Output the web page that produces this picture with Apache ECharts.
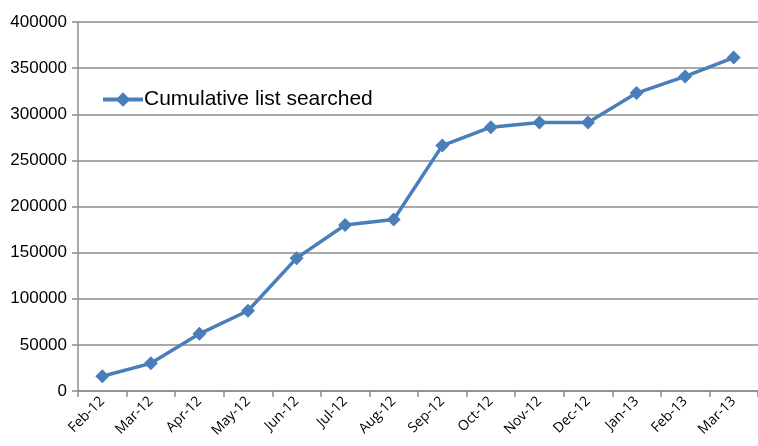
<!DOCTYPE html>
<html lang="en">
<head>
    <meta charset="UTF-8">
    <title>Cumulative list searched</title>
    <script src="https://cdn.jsdelivr.net/npm/echarts@6/dist/echarts.min.js"></script>
    <style>
        body { margin: 0; padding: 0; background: #fff; }
        #chart { width: 758px; height: 446px; }
    </style>
</head>
<body>
<div id="chart"></div>
<script>
// data
const months = ['Feb-12', 'Mar-12', 'Apr-12', 'May-12', 'Jun-12', 'Jul-12', 'Aug-12',
    'Sep-12', 'Oct-12', 'Nov-12', 'Dec-12', 'Jan-13', 'Feb-13', 'Mar-13'];
const searched = [16000, 30000, 62000, 87000, 144000, 180000, 186000,
    266000, 286000, 291000, 291000, 323000, 341000, 361500];
const seriesName = 'Cumulative list searched';

const chart = echarts.init(document.getElementById('chart'));
const gray = '#8c8c8c';

chart.setOption({
    animation: false,
    grid: { left: 78, right: -7, top: 22, bottom: 55 },
    legend: {
        left: 96,
        top: 84,
        itemWidth: 40,
        itemHeight: 18,
        itemGap: 0,
        lineStyle: { width: 4 },
        textStyle: { fontFamily: 'Liberation Sans', fontSize: 21, color: '#000', padding: [0, 0, 0, -4] },
        data: [seriesName]
    },
    xAxis: {
        type: 'category',
        data: months,
        boundaryGap: true,
        axisLine: { lineStyle: { color: gray, width: 1.5 } },
        axisTick: { show: true, length: 6, lineStyle: { color: gray, width: 1.5 } },
        axisLabel: {
            rotate: 45,
            fontFamily: 'Open Sans',
            fontSize: 14,
            color: '#000',
            margin: 8
        }
    },
    yAxis: {
        type: 'value',
        min: 0,
        max: 400000,
        interval: 50000,
        axisLine: { show: true, lineStyle: { color: gray, width: 1.5 } },
        axisTick: { show: true, length: 6, lineStyle: { color: gray, width: 1.5 } },
        splitLine: { lineStyle: { color: gray, width: 1.5 } },
        axisLabel: {
            fontFamily: 'Liberation Sans',
            fontSize: 17,
            color: '#000',
            margin: 11,
            formatter: v => String(v)
        }
    },
    series: [{
        name: seriesName,
        type: 'line',
        data: searched,
        symbol: 'diamond',
        symbolSize: 14,
        itemStyle: { color: '#4a7ebb' },
        lineStyle: { color: '#4a7ebb', width: 3.5 }
    }]
});
</script>
</body>
</html>
